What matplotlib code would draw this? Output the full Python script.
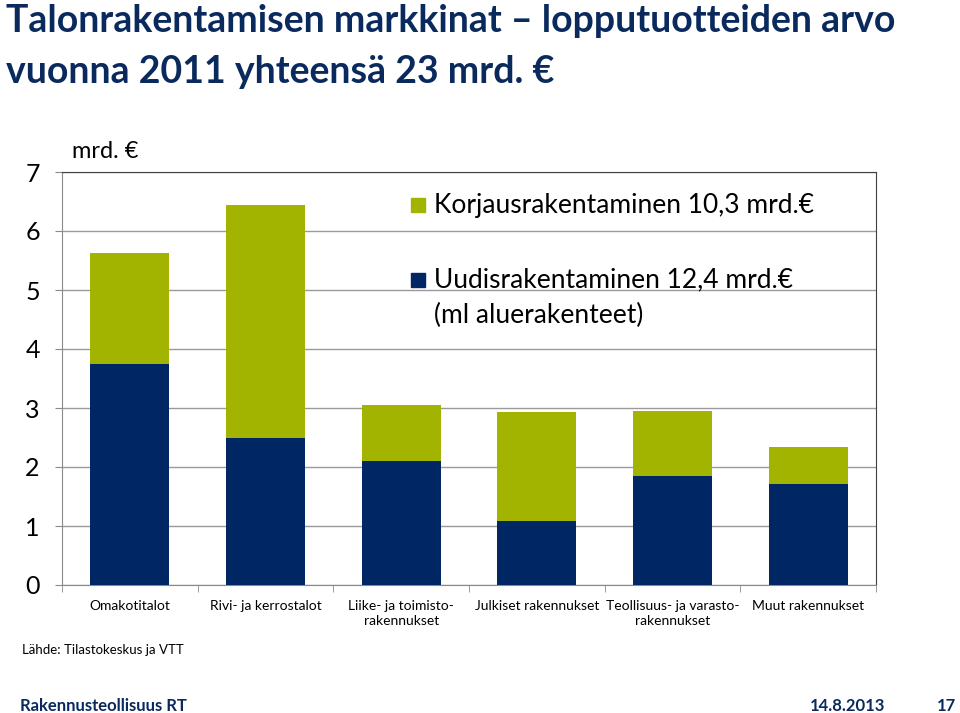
import numpy as np
import matplotlib.pyplot as plt
from matplotlib.patches import Rectangle

# Data (mrd. €)
categories = ['Omakotitalot', 'Rivi- ja kerrostalot', 'Liike- ja toimisto-\nrakennukset',
              'Julkiset rakennukset', 'Teollisuus- ja varasto-\nrakennukset', 'Muut rakennukset']
uudis = [3.75, 2.49, 2.10, 1.08, 1.85, 1.71]
korjaus = [1.88, 3.95, 0.95, 1.85, 1.10, 0.63]
yticks = [0, 1, 2, 3, 4, 5, 6, 7]

NAVY = '#002664'
GREEN = '#A2B400'
TITLE = '#0A2A5E'
LIGHT = ['Lato', 'DejaVu Sans']
BOLD = ['Lato', 'DejaVu Sans']

fig = plt.figure(figsize=(9.6, 7.13), dpi=100)
ax = fig.add_axes([62 / 960, 1 - 585 / 713, 814 / 960, 413 / 713])

x = np.arange(len(categories))
ax.bar(x, uudis, width=0.58, color=NAVY, zorder=3)
ax.bar(x, korjaus, width=0.58, bottom=uudis, color=GREEN, zorder=3)

ax.set_xlim(-0.5, len(categories) - 0.5)
ax.set_ylim(0, 7)
ax.set_yticks(yticks)
ax.set_yticklabels([str(v) for v in yticks], fontsize=18, family=LIGHT)
ax.yaxis.grid(True, color='#9a9a9a', linewidth=1.0, zorder=0)
ax.tick_params(axis='y', length=5, color='#8a8a8a', pad=11)

ax.set_xticks(x)
ax.set_xticklabels(categories, fontsize=10, family=LIGHT, linespacing=1.3)
ax.set_xticks(np.arange(-0.5, len(categories)), minor=True)
ax.tick_params(axis='x', which='major', length=0, pad=11)
ax.tick_params(axis='x', which='minor', length=5, color='#8a8a8a')

for side in ['left', 'bottom']:
    ax.spines[side].set_color('#8a8a8a')
for side in ['top', 'right']:
    ax.spines[side].set_color('#404040')

# unit label
fig.text(72 / 960, 1 - 152 / 713, 'mrd. €', fontsize=17, family=LIGHT, va='center')

# legend drawn as squares + text
leg_colors = [GREEN, NAVY]
leg_y = [205, 280]
leg_text = ['Korjausrakentaminen 10,3 mrd.€', 'Uudisrakentaminen 12,4 mrd.€']
for col, txt, yp in zip(leg_colors, leg_text, leg_y):
    fig.patches.append(Rectangle((411 / 960, 1 - (yp + 7) / 713), 14 / 960, 14 / 713,
                                 transform=fig.transFigure, color=col))
    fig.text(434 / 960, 1 - yp / 713, txt, fontsize=19, family=LIGHT, va='center')
fig.text(434 / 960, 1 - 315 / 713, '(ml aluerakenteet)', fontsize=19, family=LIGHT, va='center')

# titles
fig.text(6 / 960, 1 - 21 / 713, 'Talonrakentamisen markkinat – lopputuotteiden arvo',
         fontsize=27, fontweight='bold', family=BOLD, color=TITLE, va='center')
fig.text(6 / 960, 1 - 72 / 713, 'vuonna 2011 yhteensä 23 mrd. €',
         fontsize=27, fontweight='bold', family=BOLD, color=TITLE, va='center')

fig.text(22 / 960, 1 - 650 / 713, 'Lähde: Tilastokeskus ja VTT', fontsize=9.5, family=LIGHT, va='center')

# footer
fig.text(20 / 960, 1 - 706 / 713, 'Rakennusteollisuus RT', fontsize=12, fontweight='bold',
         family=BOLD, color=TITLE, va='center')
fig.text(885 / 960, 1 - 706 / 713, '14.8.2013', fontsize=12, fontweight='bold',
         family=BOLD, color=TITLE, va='center', ha='right')
fig.text(956 / 960, 1 - 706 / 713, '17', fontsize=12, fontweight='bold',
         family=BOLD, color=TITLE, va='center', ha='right')

fig.savefig('out.png', dpi=100)
